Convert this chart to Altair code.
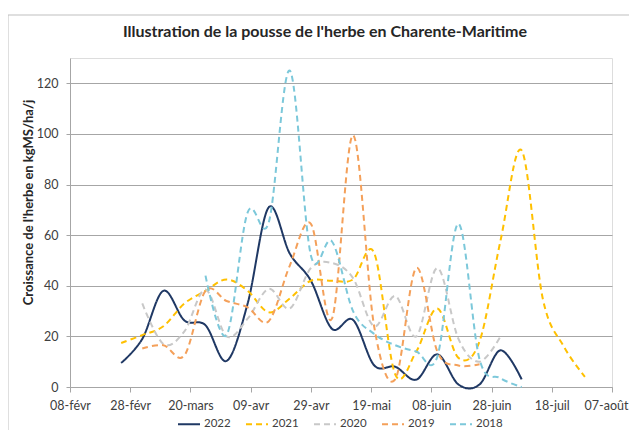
import altair as alt
import pandas as pd

# --- data (weekly points, kgMS/ha/j) ---
years = ["2022", "2021", "2020", "2019", "2018"]
colors = ["#1F3864", "#FFC000", "#C8C8C8", "#F4A05A", "#7CC8DA"]
dashes = [[1, 0], [6, 4], [6, 4], [6, 4], [6, 4]]

start_2022 = "2022-02-25"
vals_2022 = [9.5, 19, 38, 26.3, 24.4, 10.3, 33, 71, 52.7, 42, 23, 26.5, 8.6, 8, 2.9, 12.9, 1, 1, 14.5, 3]

start_2021 = "2022-02-25"
vals_2021 = [17.4, 20.5, 24, 33, 38, 42.5, 38, 29.5, 35, 42, 42, 42.5, 53, 5, 14, 31, 11.5, 18, 58, 93.5, 35, 16, 4]

start_2020 = "2022-03-04"
vals_2020 = [33, 17, 22, 38.5, 20, 27, 38.8, 31, 47, 49, 43, 24, 36, 20, 47, 19, 10, 20]

start_2019 = "2022-03-04"
vals_2019 = [15.2, 16.5, 12.5, 38, 34, 31.5, 26, 48, 64.5, 27, 99.5, 24, 3, 47, 14, 8.5, 9]

start_2018 = "2022-03-25"
vals_2018 = [44, 20.5, 69, 65, 125, 52, 57.5, 30, 21, 16.5, 14, 12, 64.5, 11, 3.5, 0]

axis_start = "2022-02-08"
tick_days = [0, 20, 40, 60, 80, 100, 120, 140, 160, 180]
tick_labels = ["08-févr", "28-févr", "20-mars", "09-avr", "29-avr",
               "19-mai", "08-juin", "28-juin", "18-juil", "07-août"]
y_ticks = [0, 20, 40, 60, 80, 100, 120]

title = "Illustration de la pousse de l'herbe en Charente-Maritime"
y_title = "Croissance de l'herbe en kgMS/ha/j"

# --- build long table ---
series = {
    "2022": (start_2022, vals_2022),
    "2021": (start_2021, vals_2021),
    "2020": (start_2020, vals_2020),
    "2019": (start_2019, vals_2019),
    "2018": (start_2018, vals_2018),
}
rows = []
t0 = pd.Timestamp(axis_start)
for yr, (start, vals) in series.items():
    s = pd.Timestamp(start)
    for i, v in enumerate(vals):
        d = s + pd.Timedelta(days=7 * i)
        rows.append({"annee": yr, "jour": (d - t0).days, "valeur": v})
df = pd.DataFrame(rows)

FONT = "Lato"
label_expr = "[" + ",".join("'%s'" % l for l in tick_labels) + "][round(datum.value/20)]"

legend = alt.Legend(
    title=None, orient="none", direction="horizontal",
    legendX=107, legendY=354,
    symbolType="stroke", symbolSize=484, symbolStrokeWidth=2,
    labelFont=FONT, labelFontSize=11.5, labelColor="#404040",
    labelOffset=3, columnPadding=11,
)

lines = alt.Chart(df).mark_line(interpolate="cardinal", strokeWidth=2, clip=False).encode(
    x=alt.X("jour:Q",
            scale=alt.Scale(domain=[0, 180], nice=False, zero=False),
            axis=alt.Axis(values=tick_days, labelExpr=label_expr, title=None,
                          grid=False, domainColor="#A6A6A6", tickColor="#A6A6A6",
                          tickSize=5, labelPadding=7, labelFont=FONT, labelFontSize=12.5,
                          labelAlign={"condition": {"test": "datum.value >= 180", "value": "right"},
                                      "value": "center"},
                          labelOffset={"condition": {"test": "datum.value >= 180", "value": 16},
                                       "value": 0},
                          labelColor="#404040", labelFlush=False)),
    y=alt.Y("valeur:Q",
            scale=alt.Scale(domain=[0, 130], nice=False),
            axis=alt.Axis(values=y_ticks, title=y_title, grid=True, gridColor="#A6A6A6",
                          gridWidth=1, domainColor="#A6A6A6", tickColor="#A6A6A6",
                          tickSize=4, labelPadding=8, labelFont=FONT, labelFontSize=12.5,
                          labelColor="#404040", titleFont=FONT, titleFontSize=13,
                          titleFontWeight="bold", titleColor="#262626",
                          titleX=-42, titleY=144, titleAngle=270, titleBaseline="middle",
                          titleAlign="center")),
    color=alt.Color("annee:N", scale=alt.Scale(domain=years, range=colors),
                    sort=years, legend=legend),
    strokeDash=alt.StrokeDash("annee:N", scale=alt.Scale(domain=years, range=dashes),
                              sort=years, legend=legend),
    order=alt.Order("jour:Q"),
)

deco = alt.Chart(pd.DataFrame({"a": [0]}))

frame = deco.mark_rect(
    fill="transparent", stroke="#BFBFBF", strokeWidth=1
).encode(
    x=alt.value(-62), x2=alt.value(700), y=alt.value(-43), y2=alt.value(500)
)

title_mark = deco.mark_text(
    font=FONT, fontSize=16, fontWeight="bold", color="#262626",
    align="center", baseline="alphabetic"
).encode(x=alt.value(255), y=alt.value(-21), text=alt.value(title))

chart = alt.layer(frame, title_mark, lines).properties(
    width=542, height=329,
    autosize=alt.AutoSizeParams(type="none"),
    padding={"left": 62, "top": 50, "right": 17, "bottom": 43},
).configure_view(stroke=None).configure(background="white")

chart.save("out.html", embed_options={"renderer": "svg", "actions": False})
